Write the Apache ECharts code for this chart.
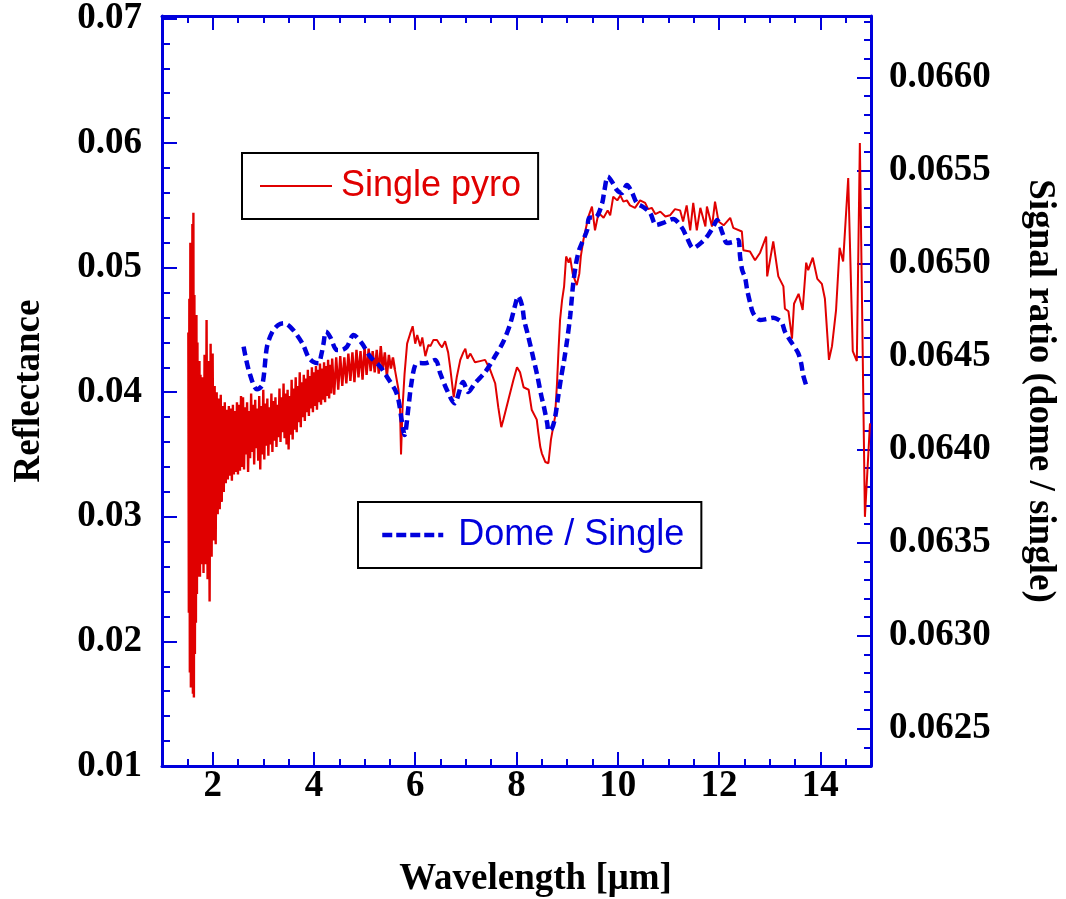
<!DOCTYPE html>
<html>
<head>
<meta charset="utf-8">
<script src="https://cdn.jsdelivr.net/npm/echarts@6/dist/echarts.min.js"></script>
<style>
  html, body { margin: 0; padding: 0; background: #ffffff; }
  #chart { width: 1066px; height: 899px; }
</style>
</head>
<body>
<div id="chart"></div>
<script>
// Single pyroelectric detector reflectance spectrum (left axis)
const pyroWavelength = [
  1.52,1.53,1.54,1.55,1.56,1.57,1.58,1.59,1.60,1.61,1.62,1.63,1.64,1.65,1.66,1.67,1.68,1.69,1.70,1.71,1.72,1.73,1.74,1.75,
  1.76,1.78,1.80,1.82,1.84,1.86,1.88,1.90,1.92,1.94,1.96,1.98,2.00,2.02,2.04,2.06,2.08,2.10,2.12,2.14,2.16,2.18,2.20,2.22,
  2.24,2.26,2.28,2.30,2.32,2.34,2.36,2.38,2.40,2.42,2.44,2.46,2.48,2.50,2.52,2.54,2.56,2.58,
  2.60,2.62,2.64,2.66,2.68,2.70,2.72,2.74,2.76,2.78,2.80,2.82,2.84,2.86,2.88,2.90,2.92,2.94,2.96,2.98,
  3.00,3.02,3.04,3.06,3.08,3.10,3.12,3.14,3.16,3.18,3.20,3.22,3.24,3.26,3.28,3.30,3.32,3.34,3.36,3.38,
  3.40,3.42,3.44,3.46,3.48,3.50,3.52,3.54,3.56,3.58,3.60,3.62,3.64,3.66,3.68,3.70,3.72,3.74,3.76,3.78,
  3.80,3.82,3.84,3.86,3.88,3.90,3.92,3.94,3.96,3.98,4.00,4.02,4.04,4.06,4.08,4.10,4.12,4.14,4.16,4.18,
  4.20,4.22,4.24,4.26,4.28,4.30,4.32,4.34,4.36,
  4.40,4.44,4.48,4.52,4.56,4.60,4.64,4.68,4.72,4.76,4.80,4.84,4.88,4.92,4.96,5.00,5.04,5.08,5.12,5.16,5.20,5.24,5.28,5.32,
  5.36,5.40,5.44,5.48,5.52,5.56,5.60,
  5.67,5.70,5.72,5.75,5.79,5.84,5.90,5.95,6.00,6.04,6.10,6.14,6.20,6.26,6.30,6.36,6.43,6.49,6.53,6.59,6.65,6.69,6.76,6.82,
  6.89,6.95,6.99,7.03,7.09,7.18,7.28,7.38,7.48,7.58,7.64,7.70,7.74,7.84,7.94,8.01,8.07,8.14,8.24,8.30,8.40,8.43,8.47,8.50,
  8.57,8.63,8.68,8.76,8.80,8.83,8.86,8.90,8.94,8.98,9.03,9.06,9.11,9.19,9.24,9.27,9.32,9.42,9.49,9.55,9.62,9.72,9.80,9.85,
  9.91,9.99,10.05,10.11,10.18,10.24,10.34,10.44,10.54,10.60,10.67,10.74,10.84,10.94,11.03,11.13,11.23,11.29,11.36,11.43,
  11.49,11.56,11.63,11.73,11.76,11.86,11.92,11.99,12.09,12.22,12.28,12.45,12.48,12.61,12.71,12.81,12.93,12.95,13.07,13.17,
  13.27,13.30,13.37,13.44,13.48,13.57,13.65,13.72,13.76,13.85,13.94,14.03,14.09,14.17,14.23,14.31,14.38,14.45,14.55,14.64,
  14.72,14.78,14.88,14.98
];
const pyroReflectance = [
  0.0448,0.0223,0.0475,0.0175,0.0520,0.0163,0.0490,0.0185,0.0535,0.0158,0.0544,0.0155,0.0478,0.0190,0.0405,0.0215,0.0462,0.0238,0.0440,0.0252,0.0418,0.0256,0.0425,0.0252,
  0.0414,0.0262,0.0412,0.0255,0.0430,0.0262,0.0458,0.0250,0.0425,0.0232,0.0439,0.0268,0.0431,0.0281,0.0405,0.0278,0.0400,0.0302,0.0395,0.0306,0.0398,0.0312,0.0389,0.0320,
  0.0392,0.0327,0.0386,0.0330,0.0389,0.0333,0.0387,0.0329,0.0390,0.0334,0.0385,0.0336,0.0392,0.0334,0.0390,0.0337,0.0397,0.0340,
  0.0396,0.0338,0.0388,0.0350,0.0392,0.0336,0.0385,0.0347,0.0399,0.0352,0.0390,0.0342,0.0394,0.0355,0.0387,0.0345,0.0397,0.0338,0.0389,0.0350,
  0.0402,0.0346,0.0391,0.0357,0.0395,0.0349,0.0388,0.0358,0.0399,0.0352,0.0393,0.0361,0.0396,0.0356,0.0390,0.0364,0.0403,0.0360,0.0396,0.0368,
  0.0407,0.0363,0.0399,0.0358,0.0402,0.0354,0.0397,0.0366,0.0410,0.0362,0.0403,0.0370,0.0412,0.0368,0.0405,0.0376,0.0416,0.0372,0.0408,0.0380,
  0.0414,0.0377,0.0411,0.0384,0.0418,0.0381,0.0413,0.0387,0.0420,0.0384,0.0416,0.0389,0.0421,0.0386,0.0418,0.0392,0.0423,0.0390,0.0419,0.0394,
  0.0424,0.0392,0.0421,0.0397,0.0426,0.0395,0.0422,0.0399,0.0427,
  0.0398,0.0428,0.0402,0.0429,0.0405,0.0428,0.0407,0.0431,0.0409,0.0432,0.0408,0.0434,0.0412,0.0433,0.0410,0.0436,0.0414,0.0435,0.0417,0.0433,0.0416,0.0434,0.0415,0.0437,
  0.0418,0.0432,0.0413,0.0430,0.0419,0.0428,0.0418,
  0.0402,0.0386,0.0350,0.0388,0.0415,0.0439,0.0447,0.0453,0.0439,0.0446,0.0437,0.0444,0.0429,0.0438,0.0437,0.0442,0.0442,0.0438,0.0436,0.0441,0.0432,0.0420,0.0396,0.0412,
  0.0426,0.0432,0.0435,0.0427,0.0431,0.0424,0.0425,0.0426,0.0418,0.0407,0.0388,0.0372,0.0378,0.0394,0.0410,0.0420,0.0416,0.0404,0.0402,0.0386,0.0378,0.0368,0.0356,0.0351,
  0.0344,0.0343,0.0362,0.0380,0.0407,0.0434,0.0458,0.0474,0.0485,0.0509,0.0504,0.0508,0.0495,0.0486,0.0495,0.0509,0.0522,0.0541,0.0549,0.0530,0.0544,0.0540,0.0546,0.0542,
  0.0557,0.0554,0.0558,0.0553,0.0554,0.0550,0.0548,0.0554,0.0552,0.0547,0.0548,0.0543,0.0545,0.0541,0.0542,0.0547,0.0546,0.0537,0.0550,0.0530,
  0.0552,0.0530,0.0548,0.0533,0.0549,0.0533,0.0553,0.0537,0.0534,0.0540,0.0532,0.0529,0.0514,0.0513,0.0506,0.0512,0.0525,0.0493,0.0521,0.0493,
  0.0485,0.0467,0.0465,0.0443,0.0471,0.0479,0.0466,0.0504,0.0498,0.0508,0.0491,0.0487,0.0475,0.0426,0.0437,0.0466,0.0516,0.0505,0.0572,0.0433,
  0.0425,0.0600,0.0300,0.0375
];
// end of the densely sampled, noisy short-wave part of the spectrum
const pyroNoisyEnd = 5.60;

// Dome / single signal ratio (right axis)
const ratioWavelength = [
  2.611,2.723,2.875,2.980,3.073,3.177,3.296,3.400,3.533,3.665,3.789,3.888,3.987,4.091,4.144,4.190,4.237,4.322,4.454,4.539,
  4.652,4.782,4.948,5.112,5.309,5.441,5.605,5.670,5.737,5.789,5.868,5.915,6.000,6.099,6.197,6.395,6.493,6.626,6.776,6.948,
  7.046,7.184,7.382,7.579,7.737,7.875,7.974,8.033,8.112,8.151,8.211,8.309,8.408,8.487,8.546,8.606,8.635,8.704,8.763,8.822,
  8.882,8.941,9.000,9.060,9.119,9.178,9.237,9.316,9.395,9.435,9.573,9.692,9.731,9.804,9.889,9.982,10.080,10.179,10.278,10.376,
  10.501,10.639,10.757,10.896,11.093,11.271,11.369,11.488,11.665,11.784,11.883,11.962,12.060,12.159,12.278,12.377,12.416,12.456,12.515,12.555,
  12.614,12.673,12.811,12.949,13.068,13.186,13.245,13.304,13.442,13.561,13.620,13.660,13.719
];
const ratioSignal = [
  0.064553,0.064417,0.064324,0.064347,0.064553,0.064632,0.064670,0.064679,0.064659,0.064616,0.064562,0.064499,0.064471,0.064464,0.064508,0.064571,0.064634,0.064605,0.064535,0.064535,
  0.064553,0.064616,0.064571,0.064499,0.064446,0.064392,0.064320,0.064267,0.064150,0.064079,0.064231,0.064338,0.064455,0.064465,0.064464,0.064482,0.064410,0.064320,0.064249,0.064363,
  0.064310,0.064358,0.064417,0.064503,0.064578,0.064675,0.064777,0.064825,0.064772,0.064696,0.064632,0.064519,0.064401,0.064293,0.064224,0.064143,0.064100,0.064116,0.064175,0.064283,
  0.064390,0.064482,0.064589,0.064718,0.064890,0.065003,0.065073,0.065126,0.065180,0.065245,0.065250,0.065325,0.065384,0.065467,0.065438,0.065395,0.065379,0.065422,0.065384,0.065325,
  0.065304,0.065271,0.065207,0.065218,0.065239,0.065191,0.065137,0.065083,0.065116,0.065153,0.065196,0.065234,0.065169,0.065110,0.065116,0.065126,0.065035,0.064965,0.064922,0.064858,
  0.064788,0.064734,0.064696,0.064702,0.064708,0.064696,0.064680,0.064632,0.064571,0.064519,0.064465,0.064401,0.064347
];

const BLUE = '#0000dd';
const RED = '#e00000';
const serifBold = { fontFamily: 'Liberation Serif', fontWeight: 'bold', fontSize: 37, color: '#000' };

const pyroData = pyroWavelength.map((x, i) => [x, pyroReflectance[i]]);
// the noisy part is drawn with a heavier stroke so the dense trace reads as a band
const pyroNoisy = pyroData.filter(p => p[0] <= pyroNoisyEnd);
const pyroSmooth = pyroData.filter(p => p[0] >= pyroNoisyEnd);
const ratioData = ratioWavelength.map((x, i) => [x, ratioSignal[i]]);

const frameLine = { show: true, onZero: false, lineStyle: { color: BLUE, width: 3 } };
const minorTickStyle = { show: true, inside: true, length: 7, lineStyle: { color: BLUE, width: 2 } };
const majorTickStyle = { show: true, inside: true, length: 14, lineStyle: { color: BLUE, width: 2 } };

const chart = echarts.init(document.getElementById('chart'), null, { renderer: 'canvas' });

chart.setOption({
  animation: false,
  backgroundColor: '#ffffff',
  grid: [
    // plotting frame
    { left: 162, right: 195, top: 16, bottom: 133, containLabel: false, outerBoundsMode: 'none' },
    // labelled major-tick frame (2..14 µm, 0.0625..0.0660)
    { left: 212.64, right: 245.64, top: 77.41, bottom: 170.22, containLabel: false, outerBoundsMode: 'none' }
  ],
  xAxis: [
    {
      gridIndex: 0, type: 'value', position: 'bottom', min: 1, max: 15, interval: 0.5,
      axisLine: frameLine, axisTick: minorTickStyle, axisLabel: { show: false }, splitLine: { show: false }
    },
    {
      gridIndex: 0, type: 'value', position: 'top', min: 1, max: 15, interval: 0.5,
      axisLine: frameLine, axisTick: minorTickStyle, axisLabel: { show: false }, splitLine: { show: false }
    },
    {
      gridIndex: 1, type: 'value', position: 'bottom', min: 2, max: 14, interval: 2, offset: 37.22,
      axisLine: { show: false }, axisTick: majorTickStyle, splitLine: { show: false },
      axisLabel: Object.assign({ margin: 2, formatter: v => String(Math.round(v)) }, serifBold),
      name: 'Wavelength [\u03bcm]', nameLocation: 'middle', nameGap: 95,
      nameTextStyle: Object.assign({ padding: [0, 0, 0, 38] }, serifBold)
    },
    {
      gridIndex: 1, type: 'value', position: 'top', min: 2, max: 14, interval: 2, offset: 61.41,
      axisLine: { show: false }, axisTick: majorTickStyle, axisLabel: { show: false }, splitLine: { show: false }
    }
  ],
  yAxis: [
    {
      gridIndex: 0, type: 'value', position: 'left', min: 0.01, max: 0.0702, interval: 0.01,
      axisLine: frameLine,
      axisTick: { show: true, inside: true, length: 15, lineStyle: { color: BLUE, width: 2 } },
      minorTick: { show: true, splitNumber: 5, length: 8, lineStyle: { color: BLUE, width: 2 } },
      splitLine: { show: false }, minorSplitLine: { show: false },
      axisLabel: Object.assign({ margin: 20, showMaxLabel: false, formatter: v => (v > 0.07005 ? '' : v.toFixed(2)) }, serifBold),
      name: 'Reflectance', nameLocation: 'middle', nameGap: 114, nameTextStyle: serifBold
    },
    {
      gridIndex: 0, type: 'value', position: 'right', min: 0.0623, max: 0.06633, interval: 0.0001,
      axisLine: frameLine, axisTick: minorTickStyle, axisLabel: { show: false }, splitLine: { show: false },
      name: 'Signal ratio (dome / single)', nameLocation: 'middle', nameGap: 150, nameRotate: -90,
      nameTextStyle: serifBold
    },
    {
      gridIndex: 1, type: 'value', position: 'right', min: 0.0625, max: 0.0660, interval: 0.0005, offset: 50.64,
      axisLine: { show: false }, axisTick: majorTickStyle, splitLine: { show: false },
      axisLabel: Object.assign({ margin: 18, formatter: v => v.toFixed(4) }, serifBold)
    }
  ],
  legend: [
    {
      data: [{ name: 'Single pyro', textStyle: { color: RED } }],
      left: 242, top: 153, orient: 'horizontal', selectedMode: false,
      padding: [15, 17, 15, 17], itemWidth: 72, itemHeight: 20,
      borderColor: '#000', borderWidth: 2, backgroundColor: '#fff',
      itemStyle: { opacity: 0 },
      lineStyle: { color: RED, width: 2, type: 'solid' },
      textStyle: { fontFamily: 'Liberation Sans', fontSize: 36, color: RED, padding: [0, 0, 0, 4] }
    },
    {
      data: [{ name: 'Dome / Single', textStyle: { color: BLUE } }],
      left: 358, top: 502, orient: 'horizontal', selectedMode: false,
      padding: [15, 17, 15, 22], itemWidth: 61, itemHeight: 20,
      borderColor: '#000', borderWidth: 2, backgroundColor: '#fff',
      itemStyle: { opacity: 0 },
      lineStyle: { color: BLUE, width: 4.5, type: [10, 4] },
      textStyle: { fontFamily: 'Liberation Sans', fontSize: 36, color: BLUE, padding: [0, 0, 0, 10] }
    }
  ],
  series: [
    {
      name: 'Single pyro', type: 'line', xAxisIndex: 0, yAxisIndex: 0,
      data: pyroNoisy, symbol: 'none', showSymbol: false, z: 2,
      lineStyle: { color: RED, width: 2.4 }, itemStyle: { color: RED }
    },
    {
      name: 'Single pyro', type: 'line', xAxisIndex: 0, yAxisIndex: 0,
      data: pyroSmooth, symbol: 'none', showSymbol: false, z: 2,
      lineStyle: { color: RED, width: 2 }, itemStyle: { color: RED }
    },
    {
      name: 'Dome / Single', type: 'line', xAxisIndex: 0, yAxisIndex: 1,
      data: ratioData, symbol: 'none', showSymbol: false, smooth: 0.3, z: 3,
      lineStyle: { color: BLUE, width: 4.5, type: [9, 5] }, itemStyle: { color: BLUE }
    }
  ]
});
</script>
</body>
</html>
